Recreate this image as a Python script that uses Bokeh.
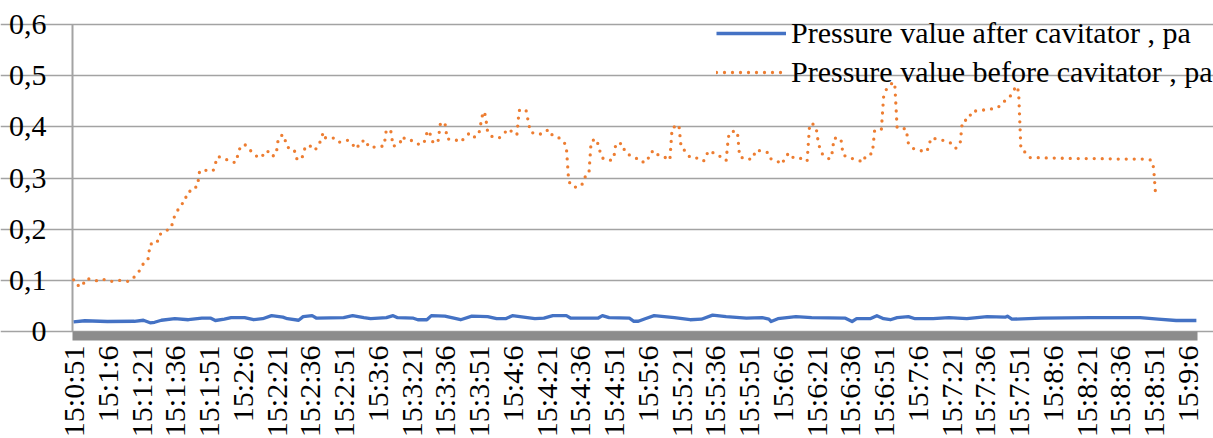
import math
from bokeh.plotting import figure
from bokeh.models import Range1d, FixedTicker, Grid, Legend, LegendItem
from bokeh.core.properties import value
from bokeh.embed import file_html
from bokeh.resources import INLINE

# ---------------- data ----------------
time_labels = ["15:0:51", "15:1:6", "15:1:21", "15:1:36", "15:1:51", "15:2:6", "15:2:21",
               "15:2:36", "15:2:51", "15:3:6", "15:3:21", "15:3:36", "15:3:51", "15:4:6",
               "15:4:21", "15:4:36", "15:4:51", "15:5:6", "15:5:21", "15:5:36", "15:5:51",
               "15:6:6", "15:6:21", "15:6:36", "15:6:51", "15:7:6", "15:7:21", "15:7:36",
               "15:7:51", "15:8:6", "15:8:21", "15:8:36", "15:8:51", "15:9:6"]

n_samples = 500  # one reading per second

# seconds after 15:0:51 and pressure before the cavitator
t_before = [0, 1, 4, 5, 8, 11, 14, 17, 20, 24, 26, 28, 30, 31, 33, 34, 37, 38, 40, 43,
            44, 45, 46, 48, 49, 51, 52, 55, 56, 59, 62, 64, 67, 69, 72, 74, 76, 78, 80, 82,
            84, 86, 88, 90, 91, 93, 94, 95, 98, 99, 101, 102, 103, 105, 107, 109, 110, 111, 112, 116,
            118, 122, 124, 126, 127, 130, 131, 135, 138, 139, 141, 142, 145, 146, 148, 151, 154, 156, 157, 158,
            159, 160, 162, 163, 165, 166, 169, 172, 174, 176, 178, 180, 182, 183, 184, 186, 189, 191, 193, 195,
            197, 198, 201, 203, 206, 209, 211, 213, 216, 218, 219, 220, 221, 224, 226, 227, 229, 230, 232, 233,
            234, 235, 238, 240, 241, 244, 245, 247, 250, 252, 255, 256, 258, 260, 263, 265, 266, 269, 270, 272,
            274, 277, 280, 281, 283, 285, 288, 290, 291, 292, 295, 296, 299, 302, 303, 306, 309, 310, 313, 315,
            316, 318, 320, 324, 326, 327, 328, 330, 331, 332, 333, 336, 337, 338, 341, 342, 345, 348, 351, 352,
            355, 356, 359, 360, 361, 363, 364, 365, 366, 370, 371, 373, 376, 379, 380, 381, 384, 387, 390, 392,
            394, 395, 398, 399, 403, 406, 410, 413, 414, 416, 419, 420, 421, 423, 425, 435, 445, 455, 465, 475,
            479, 480, 481]
before = [0.101, 0.091, 0.088, 0.102, 0.103, 0.098, 0.102, 0.098, 0.100, 0.098, 0.101, 0.113, 0.122, 0.133, 0.139, 0.171, 0.172, 0.188, 0.196, 0.200,
          0.212, 0.228, 0.236, 0.245, 0.261, 0.264, 0.279, 0.283, 0.314, 0.315, 0.314, 0.342, 0.339, 0.333, 0.330, 0.360, 0.366, 0.355, 0.350, 0.339,
          0.344, 0.354, 0.342, 0.346, 0.378, 0.385, 0.374, 0.360, 0.356, 0.338, 0.335, 0.345, 0.362, 0.363, 0.354, 0.363, 0.378, 0.389, 0.378, 0.378,
          0.370, 0.374, 0.365, 0.357, 0.370, 0.374, 0.361, 0.360, 0.363, 0.395, 0.391, 0.362, 0.367, 0.381, 0.374, 0.373, 0.364, 0.372, 0.388, 0.393,
          0.377, 0.367, 0.373, 0.406, 0.409, 0.376, 0.376, 0.370, 0.380, 0.388, 0.380, 0.384, 0.430, 0.423, 0.390, 0.381, 0.378, 0.385, 0.396, 0.390,
          0.384, 0.432, 0.434, 0.390, 0.385, 0.387, 0.395, 0.382, 0.378, 0.370, 0.360, 0.296, 0.285, 0.281, 0.288, 0.301, 0.307, 0.371, 0.377, 0.367,
          0.351, 0.339, 0.334, 0.337, 0.368, 0.367, 0.351, 0.345, 0.339, 0.331, 0.332, 0.348, 0.354, 0.344, 0.340, 0.335, 0.398, 0.404, 0.360, 0.352,
          0.340, 0.339, 0.333, 0.345, 0.354, 0.346, 0.341, 0.334, 0.380, 0.391, 0.391, 0.342, 0.336, 0.338, 0.354, 0.353, 0.349, 0.337, 0.332, 0.327,
          0.340, 0.349, 0.339, 0.338, 0.333, 0.397, 0.408, 0.399, 0.368, 0.354, 0.345, 0.337, 0.346, 0.378, 0.377, 0.345, 0.339, 0.336, 0.331, 0.344,
          0.348, 0.393, 0.395, 0.459, 0.472, 0.480, 0.488, 0.480, 0.398, 0.396, 0.368, 0.358, 0.354, 0.351, 0.360, 0.378, 0.376, 0.373, 0.368, 0.358,
          0.367, 0.411, 0.415, 0.430, 0.432, 0.434, 0.436, 0.445, 0.452, 0.458, 0.480, 0.469, 0.357, 0.350, 0.340, 0.339, 0.338, 0.338, 0.337, 0.337,
          0.335, 0.320, 0.260]

# seconds after 15:0:51 and pressure after the cavitator
t_after = [0, 5, 15, 27, 31, 34, 36, 39, 45, 51, 57, 61, 63, 67, 70, 76, 80, 84, 88, 93,
           95, 100, 102, 106, 108, 120, 124, 129, 132, 139, 142, 144, 151, 153, 157, 159, 165, 169, 172, 177,
           184, 188, 192, 195, 200, 205, 209, 213, 219, 221, 233, 235, 238, 247, 249, 251, 254, 258, 267, 274,
           279, 284, 290, 299, 306, 309, 310, 313, 321, 328, 343, 346, 348, 354, 357, 360, 363, 366, 371, 374,
           382, 389, 397, 406, 414, 415, 417, 430, 452, 474, 482, 490, 499]
after = [0.019, 0.021, 0.0195, 0.020, 0.022, 0.017, 0.018, 0.022, 0.025, 0.023, 0.026, 0.026, 0.0215, 0.024, 0.027, 0.027, 0.023, 0.025, 0.031, 0.028,
         0.025, 0.022, 0.029, 0.031, 0.026, 0.027, 0.031, 0.027, 0.025, 0.027, 0.031, 0.027, 0.026, 0.023, 0.023, 0.031, 0.030, 0.026, 0.023, 0.030,
         0.029, 0.025, 0.025, 0.031, 0.028, 0.025, 0.026, 0.031, 0.031, 0.026, 0.026, 0.031, 0.027, 0.026, 0.020, 0.020, 0.025, 0.031, 0.027, 0.023,
         0.024, 0.032, 0.029, 0.026, 0.027, 0.024, 0.0195, 0.025, 0.029, 0.027, 0.026, 0.0195, 0.025, 0.025, 0.031, 0.025, 0.023, 0.027, 0.029, 0.025,
         0.025, 0.027, 0.025, 0.029, 0.028, 0.030, 0.024, 0.026, 0.027, 0.027, 0.024, 0.0215, 0.0215]

y_ticks = [0, 0.1, 0.2, 0.3, 0.4, 0.5, 0.6]
y_tick_labels = ["0", "0,1", "0,2", "0,3", "0,4", "0,5", "0,6"]

series_names = ["Pressure value after cavitator , pa", "Pressure value before cavitator , pa"]


def secs(s):
    h, m, x = (int(v) for v in s.split(":"))
    return h * 3600 + m * 60 + x


start = secs(time_labels[0])
label_pos = [secs(s) - start for s in time_labels]

FONT = "'Liberation Serif'"
FSIZE = "30px"
GRID = "#a3a3a3"
BAND = "#8c8c8c"

# ---------------- layout (pixels) ----------------
# plot area: x from 72 to 1197 px, zero line at y=331 px, 0.6 line at y=24 px
W, H = 1213, 438
PLOT_LEFT, ZERO_Y = 72, 331
PX_PER_SEC = 2.25
PX_PER_UNIT = 307 / 0.6
TICK_LEN, BAND_H = 9, 9
X_STANDOFF, Y_STANDOFF = 14, 26

x_first = -0.5                       # left edge of the category axis
x_last = n_samples - 0.5             # right edge
x_lo = x_first - PLOT_LEFT / PX_PER_SEC
x_hi = x_lo + W / PX_PER_SEC
y_lo = -(H - ZERO_Y) / PX_PER_UNIT
y_hi = ZERO_Y / PX_PER_UNIT

p = figure(width=W, height=H, output_backend="svg", toolbar_location=None,
           x_range=Range1d(x_lo, x_hi), y_range=Range1d(y_lo, y_hi),
           x_axis_location=None, y_axis_location=None, min_border=0)
p.outline_line_color = None
p.background_fill_color = "white"
p.border_fill_color = "white"
for g in list(p.grid):
    g.visible = False

# horizontal grid lines (extended left to form the tick marks)
p.add_layout(Grid(dimension=1, ticker=FixedTicker(ticks=y_ticks),
                  bounds=(x_first - TICK_LEN / PX_PER_SEC, x_last),
                  grid_line_color=GRID, grid_line_width=1.5))

# vertical axis line
p.line([x_first, x_first], [y_ticks[0], y_ticks[-1]], line_color=GRID, line_width=2)

# grey band of dense category tick marks under the zero line
p.quad(left=[x_first], right=[x_last], top=[0], bottom=[-BAND_H / PX_PER_UNIT],
       fill_color=BAND, line_color=None)

# data
r_after = p.line(t_after, after, line_color="#4472C4", line_width=3.3, line_join="round")
r_before = p.line(t_before, before, line_color="#ED7D31", line_width=3.3,
                  line_dash="0 8", line_cap="round", line_join="round")

# tick labels
p.text(x=label_pos, y=[-X_STANDOFF / PX_PER_UNIT] * len(label_pos), text=time_labels,
       angle=math.pi / 2, text_align="right", text_baseline="middle",
       text_font=value(FONT), text_font_size=value(FSIZE), text_color="black")
p.text(x=[x_first - Y_STANDOFF / PX_PER_SEC] * len(y_ticks), y=y_ticks, text=y_tick_labels,
       text_align="right", text_baseline="middle",
       text_font=value(FONT), text_font_size=value(FSIZE), text_color="black")

legend = Legend(items=[LegendItem(label=series_names[0], renderers=[r_after]),
                       LegendItem(label=series_names[1], renderers=[r_before])],
                location=(716, 349), orientation="vertical",
                background_fill_alpha=0, border_line_color=None,
                padding=0, margin=0, spacing=5,
                glyph_width=70, glyph_height=30, label_height=30, label_standoff=5,
                label_text_font=FONT, label_text_font_size=FSIZE, label_text_color="black")
p.add_layout(legend)

open("out.html", "w").write(file_html(p, INLINE))
